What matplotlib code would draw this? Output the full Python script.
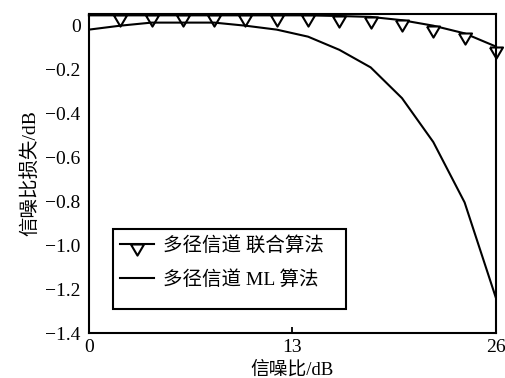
import matplotlib
matplotlib.use('Agg')
import matplotlib.pyplot as plt
from matplotlib.patches import Rectangle

plt.rcParams['font.family'] = ['Liberation Serif', 'Noto Sans CJK SC']
plt.rcParams['axes.unicode_minus'] = True

# SNR points (dB)
snr = [0, 2, 4, 6, 8, 10, 12, 14, 16, 18, 20, 22, 24, 26]
# joint algorithm, multipath channel
joint_loss = [0.047, 0.047, 0.047, 0.047, 0.047, 0.047, 0.047, 0.047,
              0.044, 0.040, 0.025, 0.0, -0.035, -0.095]
# ML algorithm, multipath channel
ml_loss = [-0.018, 0.0, 0.014, 0.014, 0.014, 0.0, -0.018, -0.05,
           -0.11, -0.19, -0.33, -0.53, -0.805, -1.24]

xticks = [0, 13, 26]
yticks = [0, -0.2, -0.4, -0.6, -0.8, -1.0, -1.2, -1.4]
ytick_labels = ['0', '\u22120.2', '\u22120.4', '\u22120.6', '\u22120.8',
                '\u22121.0', '\u22121.2', '\u22121.4']

# down-triangle whose top edge sits on the data point
tri = [(-1, 0), (1, 0), (0, -1.7), (-1, 0)]

fig = plt.figure(figsize=(5.05, 3.78), dpi=100)
ax = fig.add_axes([0.176, 0.119, 0.806, 0.845])

ax.plot(snr, joint_loss, color='black', lw=1.5, marker=tri, markevery=slice(1, None),
        markersize=16, markerfacecolor='white', markeredgecolor='black',
        markeredgewidth=1.5, label='多径信道 联合算法', clip_on=False)
ax.plot(snr, ml_loss, color='black', lw=1.5, label='多径信道 ML 算法')

ax.set_xlim(0, 26)
ax.set_ylim(-1.4, 0.055)
ax.set_xticks(xticks)
ax.set_yticks(yticks)
ax.set_yticklabels(ytick_labels)
ax.tick_params(axis='x', direction='in', length=4, width=1.3, labelsize=14, pad=4)
ax.tick_params(axis='y', length=0, labelsize=14, pad=6)
for s in ax.spines.values():
    s.set_linewidth(1.5)

ax.set_xlabel('信噪比/dB', fontsize=13.5, labelpad=4)
ax.set_ylabel('信噪比损失/dB', fontsize=14, labelpad=4)

# legend box drawn by hand (it is taller than its two rows)
ax.add_patch(Rectangle((0.059, 0.075), 0.573, 0.25, transform=ax.transAxes,
                       facecolor='white', edgecolor='black', lw=1.5, zorder=5))
leg = ax.legend(loc='upper left', bbox_to_anchor=(0.059, 0.325), frameon=False,
                fontsize=14, handlelength=1.75, handletextpad=0.5,
                labelspacing=0.8, borderaxespad=0.1, borderpad=0.25)
leg.set_zorder(6)

fig.savefig('out.png', dpi=100)
